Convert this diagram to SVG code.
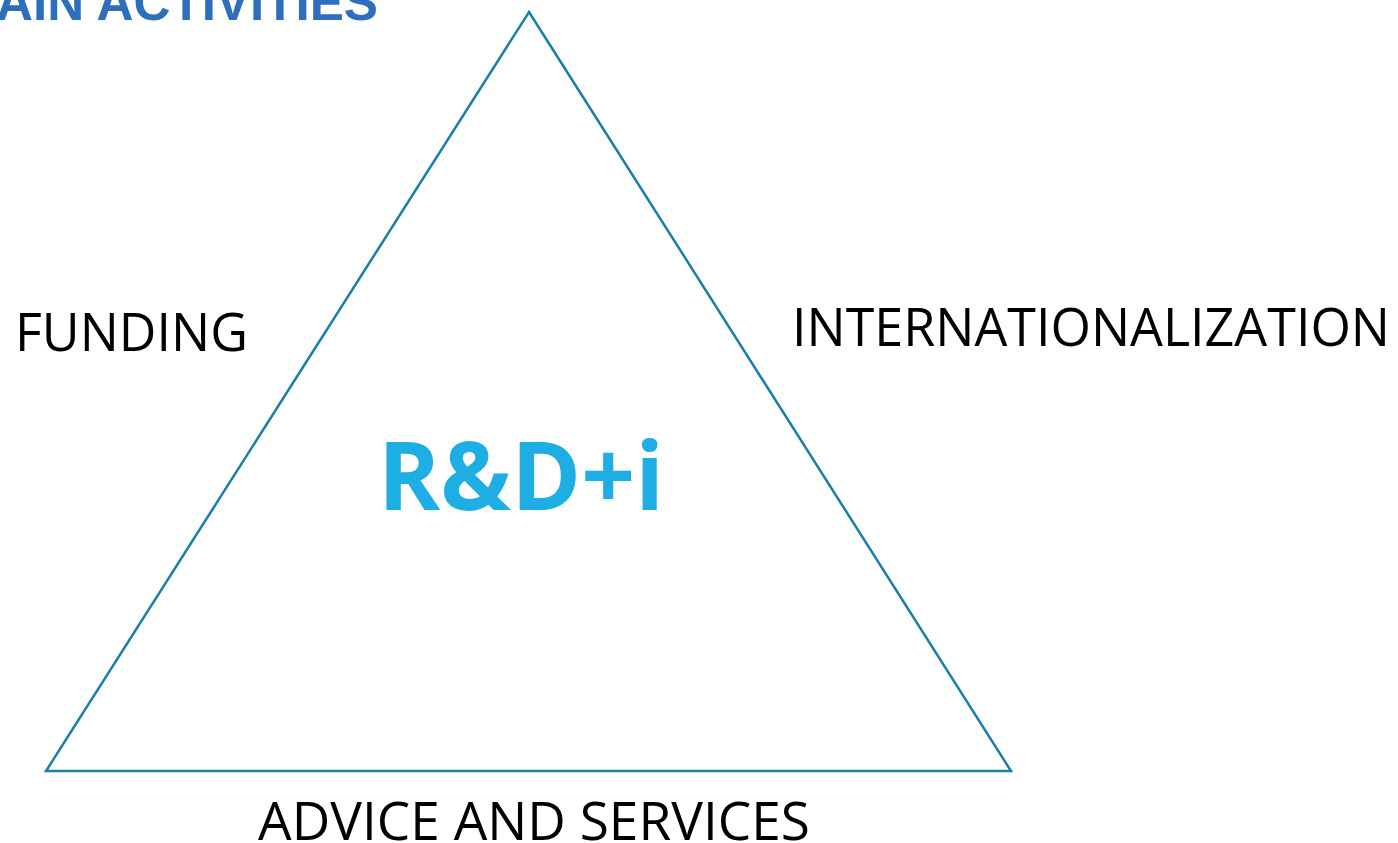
<svg xmlns="http://www.w3.org/2000/svg" width="1398" height="843" viewBox="0 0 1398 843">
<style>
.lbl{font-family:"Open Sans","Noto Sans",sans-serif;font-size:53px;fill:#000}
.title{font-family:"Liberation Sans",Arial,sans-serif;font-weight:bold;font-size:51px;fill:#2F6EBA}
.center{font-family:"Open Sans","Noto Sans",sans-serif;font-weight:bold;font-size:95px;fill:#1EAEE4}
.edge{fill:none;stroke:#1A7EA6;stroke-width:2.5;stroke-linejoin:miter}
</style>
<rect width="1398" height="843" fill="#fff"/>
<g id="title"><text class="title" x="-4" y="20" textLength="382" lengthAdjust="spacingAndGlyphs">AIN ACTIVITIES</text></g>
<g id="connectors"><polygon class="edge" points="529,12 1011,771 46,771"/></g>
<g id="center"><text class="center" x="378" y="510" textLength="286" lengthAdjust="spacingAndGlyphs">R&amp;D+i</text></g>
<g id="funding"><text class="lbl" x="15" y="351" textLength="233" lengthAdjust="spacingAndGlyphs">FUNDING</text></g>
<g id="internationalization"><text class="lbl" x="792" y="346" textLength="598" lengthAdjust="spacingAndGlyphs">INTERNATIONALIZATION</text></g>
<g id="advice"><text class="lbl" x="258" y="840" textLength="552" lengthAdjust="spacingAndGlyphs">ADVICE AND SERVICES</text></g>
</svg>
